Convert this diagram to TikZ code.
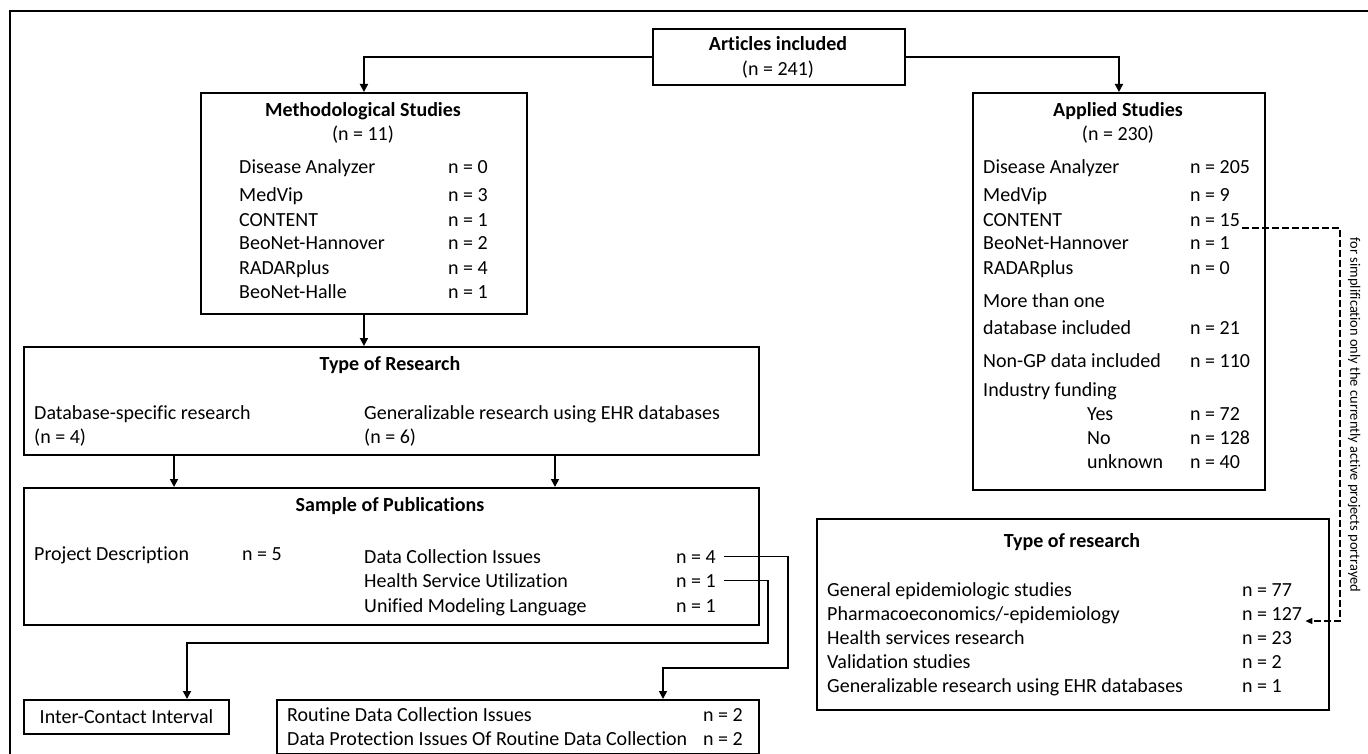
\documentclass[tikz,border=0pt]{standalone}
\usepackage{fontspec}
\setmainfont{Carlito}[Ligatures=NoCommon]
\usetikzlibrary{arrows.meta}
\newcommand\bodyfs{\fontsize{20}{24}\selectfont}
\newcommand\notefs{\fontsize{14.4}{17}\selectfont}
\tikzset{
  box/.style={draw, line width=1.9pt, inner sep=0pt, anchor=north west},
  lbl/.style={anchor=base west, inner sep=0pt, font=\bodyfs},
  ttl/.style={anchor=base, inner sep=0pt, font=\bodyfs\bfseries},
  ctr/.style={anchor=base, inner sep=0pt, font=\bodyfs},
  arr/.style={line width=1.7pt, -{Triangle[length=8pt,width=8pt]}},
  dashlink/.style={line width=1.4pt, dash pattern=on 7pt off 3pt, -{Triangle[length=7pt,width=6pt]}},
  frame/.style={line width=2pt}
}
\begin{document}
\begin{tikzpicture}[x=1pt,y=-1pt]
\useasboundingbox (0,0) rectangle (1368,754);
% outer frame
\draw[frame] (10,754) -- (10,11) -- (1368,11);

% boxes
\node[box, minimum width=252pt, minimum height=56pt] (art) at (652,28) {};
\node[box, minimum width=326pt, minimum height=221pt] (meth) at (200,92) {};
\node[box, minimum width=292pt, minimum height=397pt] (appl) at (972,92) {};
\node[box, minimum width=735pt, minimum height=108pt] (tor) at (23,346) {};
\node[box, minimum width=735pt, minimum height=137pt] (sop) at (23,487) {};
\node[box, minimum width=205pt, minimum height=34pt, font=\bodyfs] (ici) at (23,699) {Inter-Contact Interval};
\node[box, minimum width=482pt, minimum height=54pt] (rout) at (276,699) {};
\node[box, minimum width=512pt, minimum height=191pt] (tres) at (816,518) {};

% Articles
\node[ttl] (artT) at (778,51) {Articles included};
\node[ctr] (artN) at (778,76) {(n = 241)};

% Methodological
\node[ttl] (methT) at (363,117) {Methodological Studies};
\node[ctr] (methN) at (363,141) {(n = 11)};
\node[lbl] (m1) at (239,174) {Disease Analyzer};  \node[lbl] (m1n) at (448,174) {n = 0};
\node[lbl] (m2) at (239,202) {MedVip};            \node[lbl] (m2n) at (448,202) {n = 3};
\node[lbl] (m3) at (239,226) {CONTENT};           \node[lbl] (m3n) at (448,226) {n = 1};
\node[lbl] (m4) at (239,250) {BeoNet-Hannover};   \node[lbl] (m4n) at (448,250) {n = 2};
\node[lbl] (m5) at (239,274) {RADARplus};         \node[lbl] (m5n) at (448,274) {n = 4};
\node[lbl] (m6) at (239,298) {BeoNet-Halle};      \node[lbl] (m6n) at (448,298) {n = 1};

% Applied
\node[ttl] (applT) at (1118,117) {Applied Studies};
\node[ctr] (applN) at (1118,141) {(n = 230)};
\node[lbl] (a1) at (983,174) {Disease Analyzer};  \node[lbl] (a1n) at (1190,174) {n = 205};
\node[lbl] (a2) at (983,202) {MedVip};            \node[lbl] (a2n) at (1190,202) {n = 9};
\node[lbl] (a3) at (983,226) {CONTENT};           \node[lbl] (n15) at (1190,226) {n = 15};
\node[lbl] (a4) at (983,250) {BeoNet-Hannover};   \node[lbl] (a4n) at (1190,250) {n = 1};
\node[lbl] (a5) at (983,274) {RADARplus};         \node[lbl] (a5n) at (1190,274) {n = 0};
\node[lbl] (a6) at (983,307) {More than one};
\node[lbl] (a7) at (983,334) {database included}; \node[lbl] (a7n) at (1190,334) {n = 21};
\node[lbl] (a8) at (983,367) {Non-GP data included}; \node[lbl] (a8n) at (1190,367) {n = 110};
\node[lbl] (a9) at (983,396) {Industry funding};
\node[lbl] (a10) at (1087,420) {Yes};             \node[lbl] (a10n) at (1190,420) {n = 72};
\node[lbl] (a11) at (1087,444) {No};              \node[lbl] (a11n) at (1190,444) {n = 128};
\node[lbl] (a12) at (1087,468) {unknown};         \node[lbl] (a12n) at (1190,468) {n = 40};

% Type of Research (left)
\node[ttl] (torT) at (390,370) {Type of Research};
\node[lbl] (t1) at (34,419) {Database-specific research};
\node[lbl] (t1n) at (34,443) {(n = 4)};
\node[lbl] (t2) at (364,419) {Generalizable research using EHR databases};
\node[lbl] (t2n) at (364,443) {(n = 6)};

% Sample of Publications
\node[ttl] (sopT) at (390,511) {Sample of Publications};
\node[lbl] (s1) at (34,560) {Project Description};       \node[lbl] (s1n) at (242,560) {n = 5};
\node[lbl] (s2) at (364,563) {Data Collection Issues};    \node[lbl] (n4) at (676,563) {n = 4};
\node[lbl] (s3) at (364,587) {Health Service Utilization};\node[lbl] (n1h) at (676,587) {n = 1};
\node[lbl] (s4) at (364,612) {Unified Modeling Language}; \node[lbl] (s4n) at (676,612) {n = 1};

% Routine
\node[lbl] (r1) at (287,721) {Routine Data Collection Issues};                   \node[lbl] (r1n) at (703,721) {n = 2};
\node[lbl] (r2) at (287,745) {Data Protection Issues Of Routine Data Collection}; \node[lbl] (r2n) at (703,745) {n = 2};

% Type of research (right)
\node[ttl] (tresT) at (1072,547) {Type of research};
\node[lbl] (q1) at (827,596) {General epidemiologic studies};           \node[lbl] (q1n) at (1242,596) {n = 77};
\node[lbl] (q2) at (827,620) {Pharmacoeconomics/-epidemiology};         \node[lbl] (n127) at (1242,620) {n = 127};
\node[lbl] (q3) at (827,644) {Health services research};                \node[lbl] (q3n) at (1242,644) {n = 23};
\node[lbl] (q4) at (827,668) {Validation studies};                      \node[lbl] (q4n) at (1242,668) {n = 2};
\node[lbl] (q5) at (827,692) {Generalizable research using EHR databases}; \node[lbl] (q5n) at (1242,692) {n = 1};

% note
\node[rotate=-90, inner sep=0pt, font=\notefs] (note) at (1354,415) {for simplification only the currently active projects portrayed};

% connectors
\draw[arr] (art.west) -| (meth.north);
\draw[arr] (art.east) -| (appl.north);
\draw[arr] (meth.south) -- (tor.north -| meth.south);
\coordinate (xa) at (174,0);
\coordinate (xb) at (555,0);
\draw[arr] (tor.south -| xa) -- (sop.north -| xa);
\draw[arr] (tor.south -| xb) -- (sop.north -| xb);

\coordinate (b1) at (788,668);
\coordinate (b2) at (663,0);
\draw[arr] ([xshift=8pt]n4.east) -| (b1) -| (rout.north -| b2);
\coordinate (b3) at (768,643);
\coordinate (b4) at (187,0);
\draw[arr] ([xshift=8pt]n1h.east) -| (b3) -| (ici.north -| b4);

\coordinate (dstart) at ([xshift=2pt,yshift=-2pt]n15.base east);
\coordinate (dend) at ([xshift=3pt,yshift=-1pt]n127.base east);
\coordinate (d1) at (1340,0);
\draw[dashlink] (dstart) -| (d1 |- dend) -- (dend);
\end{tikzpicture}
\end{document}
